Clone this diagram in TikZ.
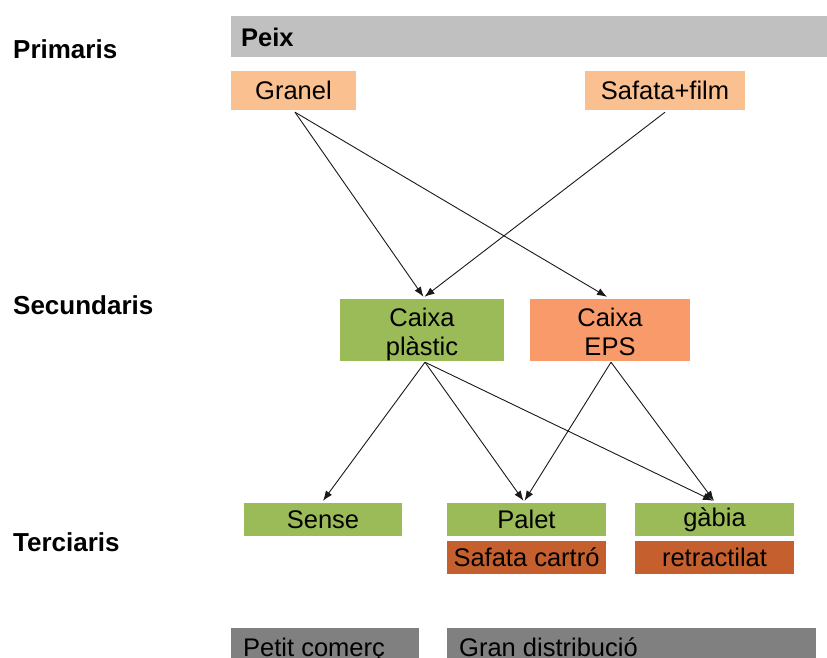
\documentclass[tikz,border=0pt]{standalone}
\usepackage{fontspec}
\setmainfont{Liberation Sans}
\usetikzlibrary{arrows.meta,calc}

\definecolor{bargray}{HTML}{C0C0C0}
\definecolor{darkbar}{HTML}{808080}
\definecolor{peach}{HTML}{FAC090}
\definecolor{leaf}{HTML}{9BBB59}
\definecolor{salmon}{HTML}{F89A6A}
\definecolor{rust}{HTML}{C65F2E}

\begin{document}
\begin{tikzpicture}[x=1pt,y=-1pt,
  box/.style={inner sep=0pt, align=center, text=black,
    font=\fontsize{25.5}{29}\selectfont},
  boxtext/.style={inner sep=0pt, align=center, text=black,
    font=\fontsize{25.5}{29}\selectfont},
  band/.style={inner sep=0pt, anchor=north west},
  bandtext/.style={inner sep=0pt, anchor=base west, text=black,
    font=\fontsize{25.5}{29}\selectfont},
  level/.style={inner sep=0pt, anchor=base west, text=black,
    font=\fontsize{26}{30}\selectfont\bfseries},
  conn/.style={draw=black!90, line width=0.9pt, -{Latex[length=10pt,width=7.5pt]}}
]
\useasboundingbox (0,0) rectangle (827,657);
\clip (0,0) rectangle (827,657);

% level labels
\node[level] (lprim) at (13,58) {Primaris};
\node[level] (lsec)  at (13,314) {Secundaris};
\node[level] (lter)  at (13,551) {Terciaris};

% product band
\node[band, fill=bargray, minimum width=597pt, minimum height=41pt] (peixbar) at (231,16) {};
\node[bandtext, font=\fontsize{25.5}{29}\selectfont\bfseries] (peix) at (241,46.5) {Peix};

% primary packaging
\node[box, fill=peach, minimum width=125pt, minimum height=39pt] (granel) at (293.5,90.5) {Granel};
\node[box, fill=peach, minimum width=160pt, minimum height=39pt] (safata) at (665,90.5) {Safata+film};

% secondary packaging (two-line captions set on top of the boxes)
\node[box, fill=leaf, minimum width=164pt, minimum height=62pt] (plastic) at (422,330) {};
\node[boxtext] (plastictext) at ($(plastic.center)+(0,4.7)$) {\strut Caixa\\\strut plàstic};
\node[box, fill=salmon, minimum width=160pt, minimum height=62pt] (eps) at (610,330) {};
\node[boxtext] (epstext) at ($(eps.center)+(0,4.7)$) {\strut Caixa\\\strut EPS};

% tertiary packaging
\node[box, fill=leaf, minimum width=158pt, minimum height=33pt] (sense) at (323,519.5) {Sense};
\node[box, fill=leaf, minimum width=159pt, minimum height=33pt] (palet) at (526.5,519.5) {Palet};
\node[box, fill=rust, minimum width=159pt, minimum height=33pt] (cartro) at (526.5,557.5) {Safata cartró};
\node[box, fill=leaf, minimum width=159pt, minimum height=33pt] (gabia) at (714.5,519.5) {gàbia};
\node[box, fill=rust, minimum width=159pt, minimum height=33pt] (retract) at (714.5,557.5) {retractilat};

% distribution channels
\node[band, fill=darkbar, minimum width=188pt, minimum height=50pt] (petitbar) at (231,628) {};
\node[bandtext] (petit) at (243,656) {Petit comerç};
\node[band, fill=darkbar, minimum width=369pt, minimum height=50pt] (granbar) at (447,628) {};
\node[bandtext] (gran) at (459,656) {Gran distribució};

% primary -> secondary
\draw[conn] ($(granel.south)+(1.5,2)$) -- ($(plastic.north)+(1.5,-2)$);
\draw[conn] ($(granel.south)+(1.5,2)$) -- ($(eps.north)+(-3,-2)$);
\draw[conn] ($(safata.south)+(0,2)$) -- ($(plastic.north)+(2.5,-2)$);

% secondary -> tertiary
\draw[conn] ($(plastic.south)+(3,1)$) -- ($(sense.north)+(0,-2)$);
\draw[conn] ($(plastic.south)+(3,1)$) -- ($(palet.north)+(-3,-2)$);
\draw[conn] ($(plastic.south)+(3,1)$) -- ($(gabia.north)+(-1.5,-2)$);
\draw[conn] ($(eps.south)+(1,1)$) -- ($(palet.north)+(-2,-2)$);
\draw[conn] ($(eps.south)+(1,1)$) -- ($(gabia.north)+(-0.5,-2)$);
\end{tikzpicture}
\end{document}
